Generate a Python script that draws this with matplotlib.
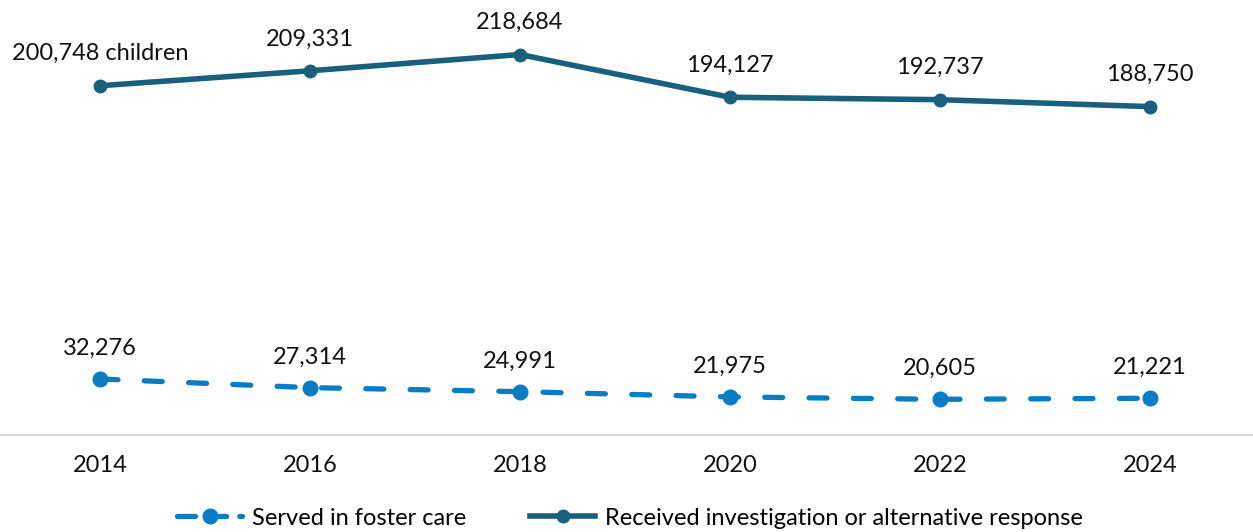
import matplotlib.pyplot as plt
from matplotlib.lines import Line2D

years = ['2014', '2016', '2018', '2020', '2022', '2024']
investigation = [200748, 209331, 218684, 194127, 192737, 188750]
foster = [32276, 27314, 24991, 21975, 20605, 21221]

dark = '#19607f'
blue = '#0a7cc4'

plt.rcParams['font.family'] = ['Lato', 'DejaVu Sans']

fig = plt.figure(figsize=(12.53, 5.32), dpi=100)
ax = fig.add_axes([-5 / 1253, 0.182, 1260 / 1253, 0.818])
x = list(range(len(years)))

ax.plot(x, investigation, color=dark, lw=4, marker='o', ms=9, solid_capstyle='round')
ax.plot(x, foster, color=blue, lw=3.8, marker='o', ms=10.5, linestyle=(0, (3.4, 5)),
        dash_capstyle='round')

for i, v in enumerate(investigation):
    label = f'{v:,}' + (' children' if i == 0 else '')
    ax.annotate(label, (i, v), xytext=(0, 23), textcoords='offset points',
                ha='center', va='center', fontsize=17, color='#111111')
for i, v in enumerate(foster):
    ax.annotate(f'{v:,}', (i, v), xytext=(0, 22), textcoords='offset points',
                ha='center', va='center', fontsize=17, color='#111111')

ax.set_xlim(-0.5, 5.5)
ax.set_ylim(0, 250000)
ax.set_xticks(x)
ax.set_xticklabels(years, fontsize=17, color='#111111')
ax.tick_params(axis='x', length=0, pad=14)
ax.set_yticks([])
for s in ['top', 'left', 'right']:
    ax.spines[s].set_visible(False)
ax.spines['bottom'].set_color('#d9d9d9')
ax.spines['bottom'].set_linewidth(1.5)

handles = [
    Line2D([], [], color=blue, lw=3.8, marker='o', ms=10.5, linestyle=(0, (3.4, 2.5)),
           dash_capstyle='round'),
    Line2D([], [], color=dark, lw=4, marker='o', ms=9),
]
fig.legend(handles, ['Served in foster care', 'Received investigation or alternative response'],
           loc='center', bbox_to_anchor=(0.503, 0.026), ncol=2, frameon=False, fontsize=17,
           handlelength=2.75, columnspacing=2.7, handletextpad=0.42, borderpad=0)

fig.savefig('out.png', dpi=100)
